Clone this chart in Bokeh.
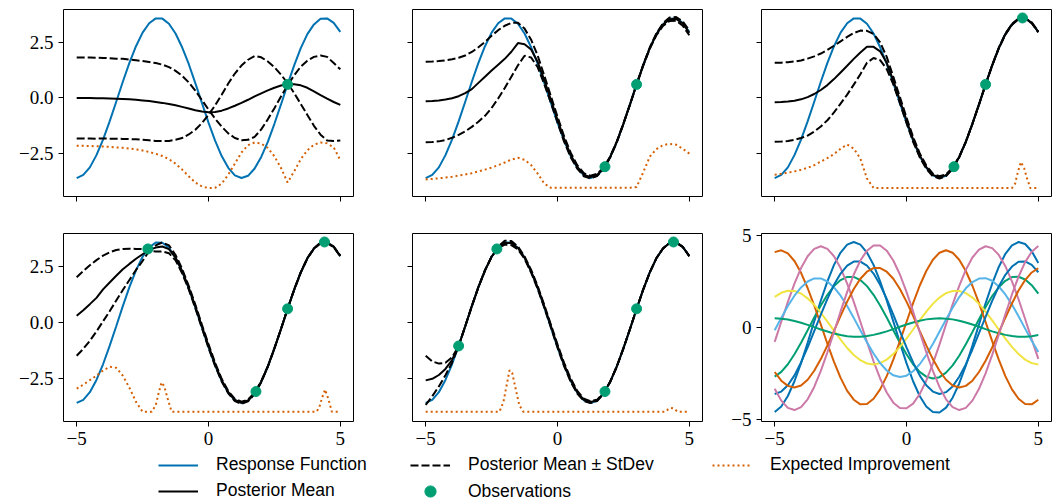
from bokeh.plotting import figure
from bokeh.layouts import row, column
from bokeh.models import FixedTicker, CustomJSTickFormatter, Legend, LegendItem, Range1d
from bokeh.embed import file_html
from bokeh.resources import INLINE

# ---------------- data ----------------
X = [-5.0, -4.75, -4.5, -4.25, -4.0, -3.75, -3.5, -3.25, -3.0, -2.75,
     -2.5, -2.25, -2.0, -1.75, -1.5, -1.25, -1.0, -0.75, -0.5, -0.25,
     0.0, 0.25, 0.5, 0.75, 1.0, 1.25, 1.5, 1.75, 2.0, 2.25,
     2.5, 2.75, 3.0, 3.25, 3.5, 3.75, 4.0, 4.25, 4.5, 4.75, 5.0]

RESPONSE = [-3.60, -3.46, -3.12, -2.57, -1.87, -1.05, -0.17, 0.73, 1.58, 2.33,
            2.94, 3.36, 3.58, 3.57, 3.34, 2.90, 2.28, 1.53, 0.67, -0.22,
            -1.11, -1.92, -2.61, -3.14, -3.48, -3.60, -3.50, -3.17, -2.65, -1.97,
            -1.16, -0.29, 0.61, 1.47, 2.24, 2.87, 3.31, 3.56, 3.58, 3.38, 2.97]

OBS_X = [3.0, 1.8, 4.4, -2.3, -3.75]
OBS_Y = [0.61, -3.09, 3.60, 3.29, -1.05]

MEAN_1 = [0.00, 0.00, 0.00, -0.01, -0.01, -0.02, -0.03, -0.04, -0.06, -0.08,
          -0.11, -0.14, -0.18, -0.22, -0.27, -0.33, -0.40, -0.47, -0.55, -0.61,
          -0.64, -0.63, -0.57, -0.47, -0.35, -0.22, -0.08, 0.07, 0.21, 0.34,
          0.46, 0.56, 0.62, 0.62, 0.57, 0.46, 0.30, 0.13, -0.03, -0.18, -0.31]
UPPER_1 = [1.82, 1.82, 1.82, 1.81, 1.80, 1.79, 1.77, 1.76, 1.73, 1.70,
           1.66, 1.62, 1.57, 1.50, 1.39, 1.22, 1.00, 0.70, 0.33, -0.09,
           -0.52, -0.93, -1.29, -1.59, -1.80, -1.90, -1.88, -1.75, -1.41, -0.96,
           -0.46, 0.07, 0.57, 1.02, 1.41, 1.68, 1.85, 1.91, 1.85, 1.57, 1.29]
LOWER_1 = [-1.82, -1.82, -1.82, -1.83, -1.82, -1.83, -1.83, -1.84, -1.85, -1.86,
           -1.88, -1.90, -1.93, -1.94, -1.93, -1.88, -1.80, -1.64, -1.43, -1.13,
           -0.76, -0.33, 0.15, 0.65, 1.10, 1.46, 1.72, 1.89, 1.83, 1.64,
           1.38, 1.05, 0.67, 0.22, -0.27, -0.76, -1.25, -1.65, -1.91, -1.93, -1.91]
EI_X_1 = X
EI_1 = [-2.15, -2.15, -2.16, -2.17, -2.18, -2.20, -2.22, -2.24, -2.27, -2.31,
        -2.36, -2.43, -2.51, -2.61, -2.75, -2.95, -3.22, -3.52, -3.80, -3.98,
        -4.05, -4.04, -3.85, -3.45, -2.95, -2.45, -2.12, -2.00, -2.05, -2.25,
        -2.62, -3.15, -3.80, -3.30, -2.75, -2.35, -2.10, -2.00, -2.04, -2.22, -2.80]

MEAN_2 = [-0.15, -0.14, -0.11, -0.07, -0.01, 0.08, 0.22, 0.40, 0.68, 0.96,
          1.24, 1.50, 1.76, 2.08, 2.47, 2.42, 2.18, 1.62, 0.80, -0.08,
          -0.98, -1.84, -2.56, -3.10, -3.45, -3.56, -3.46, -3.16, -2.65, -1.97,
          -1.16, -0.29, 0.61, 1.47, 2.24, 2.86, 3.30, 3.54, 3.56, 3.35, 2.93]
UPPER_2 = [1.63, 1.64, 1.66, 1.69, 1.74, 1.81, 1.91, 2.07, 2.28, 2.52,
           2.80, 3.05, 3.25, 3.38, 3.38, 3.12, 2.62, 1.90, 1.00, 0.08,
           -0.84, -1.72, -2.46, -3.02, -3.38, -3.50, -3.41, -3.13, -2.63, -1.95,
           -1.15, -0.28, 0.61, 1.49, 2.27, 2.90, 3.36, 3.62, 3.64, 3.45, 3.04]
LOWER_2 = [-1.99, -1.98, -1.95, -1.89, -1.79, -1.66, -1.50, -1.30, -1.07, -0.80,
           -0.45, -0.02, 0.45, 0.96, 1.47, 1.90, 1.82, 1.38, 0.62, -0.22,
           -1.10, -1.96, -2.66, -3.18, -3.52, -3.62, -3.51, -3.19, -2.67, -1.99,
           -1.17, -0.30, 0.61, 1.45, 2.21, 2.82, 3.24, 3.46, 3.48, 3.25, 2.82]
EI_X_2 = X
EI_2 = [-3.66, -3.64, -3.61, -3.58, -3.54, -3.49, -3.44, -3.38, -3.30, -3.22,
        -3.13, -3.02, -2.90, -2.77, -2.69, -2.78, -3.02, -3.40, -3.85, -4.04,
        -4.04, -4.04, -4.04, -4.04, -4.04, -4.04, -4.04, -4.04, -4.04, -4.04,
        -4.04, -4.04, -4.00, -3.35, -2.64, -2.30, -2.12, -2.06, -2.10, -2.28, -2.50]

MEAN_3 = [-0.19, -0.18, -0.16, -0.12, -0.06, 0.04, 0.18, 0.36, 0.58, 0.85,
          1.15, 1.45, 1.76, 2.05, 2.30, 2.30, 2.10, 1.58, 0.78, -0.10,
          -1.00, -1.86, -2.57, -3.11, -3.46, -3.57, -3.47, -3.16, -2.65, -1.97,
          -1.16, -0.29, 0.61, 1.47, 2.24, 2.87, 3.31, 3.56, 3.58, 3.38, 2.97]
UPPER_3 = [1.58, 1.59, 1.61, 1.64, 1.69, 1.77, 1.87, 2.00, 2.16, 2.35,
           2.55, 2.75, 2.92, 3.03, 3.02, 2.88, 2.50, 1.85, 0.95, 0.04,
           -0.88, -1.75, -2.48, -3.04, -3.40, -3.52, -3.43, -3.13, -2.63, -1.96,
           -1.15, -0.29, 0.61, 1.48, 2.26, 2.89, 3.33, 3.58, 3.60, 3.40, 2.99]
LOWER_3 = [-1.97, -1.96, -1.93, -1.88, -1.80, -1.69, -1.51, -1.28, -1.00, -0.65,
           -0.25, 0.15, 0.60, 1.07, 1.58, 1.80, 1.70, 1.30, 0.61, -0.24,
           -1.12, -1.97, -2.66, -3.18, -3.52, -3.62, -3.51, -3.19, -2.67, -1.98,
           -1.17, -0.30, 0.61, 1.46, 2.22, 2.85, 3.29, 3.54, 3.56, 3.36, 2.95]
EI_X_3 = [-5.0, -4.75, -4.5, -4.25, -4.0, -3.75, -3.5, -3.25, -3.0, -2.75,
          -2.5, -2.25, -2.0, -1.75, -1.5, -1.25, 4.0, 4.12, 4.22, 4.34,
          4.46, 4.58, 4.7, 5.0]
EI_3 = [-3.45, -3.41, -3.36, -3.30, -3.23, -3.14, -3.02, -2.86, -2.70, -2.52,
        -2.28, -2.09, -2.28, -2.72, -3.62, -4.05, -4.05, -3.85, -3.35, -2.88,
        -3.15, -3.65, -4.05, -4.05]

MEAN_4 = [0.30, 0.55, 0.82, 1.10, 1.48, 1.79, 2.09, 2.38, 2.62, 2.85,
          3.05, 3.25, 3.35, 3.40, 3.28, 2.90, 2.30, 1.56, 0.72, -0.17,
          -1.05, -1.87, -2.58, -3.12, -3.47, -3.59, -3.49, -3.17, -2.65, -1.97,
          -1.16, -0.29, 0.61, 1.47, 2.24, 2.87, 3.31, 3.56, 3.58, 3.38, 2.97]
UPPER_4 = [2.02, 2.30, 2.56, 2.79, 2.99, 3.14, 3.24, 3.29, 3.30, 3.29,
           3.28, 3.30, 3.45, 3.58, 3.45, 3.02, 2.40, 1.64, 0.80, -0.10,
           -0.97, -1.80, -2.52, -3.07, -3.42, -3.54, -3.45, -3.14, -2.63, -1.96,
           -1.15, -0.29, 0.61, 1.48, 2.25, 2.88, 3.32, 3.58, 3.60, 3.40, 2.99]
LOWER_4 = [-1.49, -1.18, -0.82, -0.40, 0.05, 0.50, 0.98, 1.45, 1.90, 2.35,
           2.75, 3.20, 3.18, 3.18, 3.10, 2.78, 2.20, 1.48, 0.64, -0.25,
           -1.13, -1.94, -2.64, -3.17, -3.52, -3.64, -3.53, -3.20, -2.67, -1.98,
           -1.17, -0.29, 0.61, 1.46, 2.23, 2.86, 3.30, 3.54, 3.56, 3.36, 2.95]
EI_X_4 = [-5.0, -4.75, -4.5, -4.25, -4.0, -3.75, -3.5, -3.25, -3.0, -2.75,
          -2.5, -2.15, -2.0, -1.88, -1.78, -1.68, -1.55, -1.4, 4.1, 4.2,
          4.3, 4.42, 4.55, 4.68, 5.0]
EI_4 = [-2.96, -2.78, -2.58, -2.38, -2.15, -1.98, -2.03, -2.38, -2.92, -3.55,
        -3.99, -3.99, -3.70, -3.10, -2.68, -2.85, -3.40, -3.99, -3.99, -3.80,
        -3.40, -3.00, -3.44, -3.99, -3.99]

MEAN_5 = [-2.59, -2.52, -2.35, -2.08, -1.68, -1.05, -0.17, 0.73, 1.58, 2.33,
          2.94, 3.36, 3.56, 3.55, 3.33, 2.90, 2.29, 1.56, 0.72, -0.16,
          -1.05, -1.88, -2.58, -3.12, -3.46, -3.56, -3.49, -3.17, -2.65, -1.97,
          -1.16, -0.29, 0.61, 1.47, 2.24, 2.87, 3.31, 3.56, 3.58, 3.38, 2.97]
UPPER_5 = [-1.49, -1.74, -1.84, -1.80, -1.56, -1.05, -0.16, 0.74, 1.59, 2.34,
           2.95, 3.40, 3.66, 3.64, 3.40, 2.95, 2.35, 1.62, 0.78, -0.10,
           -0.98, -1.81, -2.51, -3.06, -3.41, -3.52, -3.46, -3.15, -2.64, -1.96,
           -1.16, -0.29, 0.61, 1.47, 2.24, 2.87, 3.31, 3.56, 3.58, 3.38, 2.97]
LOWER_5 = [-3.69, -3.30, -2.86, -2.36, -1.80, -1.05, -0.18, 0.72, 1.57, 2.32,
           2.93, 3.33, 3.48, 3.46, 3.27, 2.85, 2.23, 1.50, 0.66, -0.22,
           -1.12, -1.95, -2.65, -3.18, -3.51, -3.60, -3.52, -3.19, -2.66, -1.98,
           -1.16, -0.29, 0.61, 1.47, 2.24, 2.87, 3.31, 3.56, 3.58, 3.38, 2.97]
EI_X_5 = [-5.0, -2.2, -2.05, -1.92, -1.82, -1.72, -1.6, -1.45, -1.3, 4.1,
          4.2, 4.3, 4.42, 4.55, 5.0]
EI_5 = [-3.99, -3.99, -3.55, -2.75, -2.14, -2.25, -2.90, -3.70, -3.99, -3.99,
        -3.88, -3.82, -3.85, -3.99, -3.99]

# prior samples (panel 6)
SAMPLE_01 = [-4.58, -4.28, -3.71, -2.91, -1.93, -0.83, 0.33, 1.46, 2.50, 3.39,
             4.06, 4.49, 4.63, 4.49, 4.06, 3.39, 2.50, 1.46, 0.33, -0.83,
             -1.93, -2.91, -3.71, -4.28, -4.58, -4.60, -4.34, -3.80, -3.03, -2.07,
             -0.98, 0.17, 1.31, 2.37, 3.28, 3.99, 4.45, 4.63, 4.52, 4.13, 3.49]
SAMPLE_02 = [-2.66, -2.40, -1.99, -1.45, -0.83, -0.15, 0.54, 1.19, 1.77, 2.24,
             2.57, 2.74, 2.74, 2.57, 2.24, 1.77, 1.19, 0.54, -0.15, -0.83,
             -1.45, -1.99, -2.40, -2.66, -2.76, -2.69, -2.44, -2.05, -1.53, -0.91,
             -0.24, 0.45, 1.11, 1.70, 2.18, 2.53, 2.73, 2.75, 2.60, 2.29, 1.84]
SAMPLE_03 = [4.08, 4.18, 4.01, 3.60, 2.96, 2.14, 1.19, 0.16, -0.88, -1.86,
             -2.73, -3.43, -3.91, -4.16, -4.14, -3.86, -3.35, -2.63, -1.74, -0.74,
             0.30, 1.32, 2.26, 3.06, 3.67, 4.05, 4.18, 4.05, 3.67, 3.06,
             2.26, 1.32, 0.30, -0.74, -1.74, -2.63, -3.35, -3.86, -4.14, -4.16, -3.91]
SAMPLE_04 = [-0.78, 0.31, 1.39, 2.38, 3.22, 3.86, 4.26, 4.40, 4.26, 3.86,
             3.22, 2.38, 1.39, 0.31, -0.78, -1.83, -2.76, -3.52, -4.07, -4.36,
             -4.37, -4.12, -3.61, -2.88, -1.96, -0.93, 0.17, 1.25, 2.25, 3.12,
             3.79, 4.22, 4.40, 4.30, 3.93, 3.32, 2.50, 1.53, 0.46, -0.64, -1.70]
SAMPLE_05 = [1.66, 1.88, 1.99, 1.98, 1.84, 1.58, 1.23, 0.80, 0.32, -0.17,
             -0.66, -1.11, -1.49, -1.77, -1.95, -2.00, -1.93, -1.74, -1.44, -1.05,
             -0.60, -0.11, 0.39, 0.86, 1.28, 1.62, 1.86, 1.98, 1.98, 1.86,
             1.62, 1.28, 0.86, 0.39, -0.11, -0.60, -1.05, -1.44, -1.74, -1.93, -2.00]
SAMPLE_06 = [-0.15, 0.52, 1.16, 1.72, 2.17, 2.49, 2.66, 2.66, 2.49, 2.17,
             1.72, 1.16, 0.52, -0.15, -0.80, -1.41, -1.93, -2.33, -2.59, -2.68,
             -2.61, -2.37, -1.99, -1.49, -0.89, -0.23, 0.43, 1.07, 1.65, 2.12,
             2.46, 2.65, 2.67, 2.53, 2.22, 1.79, 1.24, 0.61, -0.06, -0.72, -1.33]
SAMPLE_07 = [-3.60, -3.47, -3.13, -2.59, -1.89, -1.08, -0.20, 0.70, 1.55, 2.31,
             2.92, 3.35, 3.57, 3.57, 3.35, 2.92, 2.31, 1.55, 0.70, -0.20,
             -1.08, -1.89, -2.59, -3.13, -3.47, -3.60, -3.50, -3.19, -2.67, -2.00,
             -1.19, -0.31, 0.58, 1.44, 2.22, 2.85, 3.30, 3.56, 3.58, 3.39, 2.99]
SAMPLE_08 = [0.50, 0.48, 0.43, 0.35, 0.26, 0.14, 0.02, -0.11, -0.22, -0.33,
             -0.41, -0.47, -0.50, -0.50, -0.46, -0.40, -0.31, -0.21, -0.09, 0.04,
             0.16, 0.27, 0.37, 0.44, 0.48, 0.50, 0.48, 0.44, 0.37, 0.27,
             0.16, 0.04, -0.09, -0.21, -0.31, -0.40, -0.46, -0.50, -0.50, -0.47, -0.41]
SAMPLE_09 = [-2.41, -2.88, -3.16, -3.25, -3.14, -2.83, -2.34, -1.71, -0.97, -0.18,
             0.63, 1.40, 2.08, 2.64, 3.02, 3.22, 3.22, 3.02, 2.64, 2.08,
             1.40, 0.63, -0.18, -0.97, -1.71, -2.34, -2.83, -3.14, -3.25, -3.16,
             -2.88, -2.41, -1.80, -1.08, -0.28, 0.53, 1.30, 2.00, 2.57, 2.98, 3.21]
SAMPLE_10 = [-3.32, -3.96, -4.35, -4.47, -4.31, -3.89, -3.22, -2.35, -1.34, -0.24,
             0.87, 1.93, 2.87, 3.63, 4.16, 4.44, 4.44, 4.16, 3.63, 2.87,
             1.93, 0.87, -0.24, -1.34, -2.35, -3.22, -3.89, -4.31, -4.47, -4.35,
             -3.96, -3.32, -2.48, -1.48, -0.39, 0.72, 1.79, 2.75, 3.54, 4.10, 4.41]

X_TICKS = [-5, 0, 5]
Y_TICKS_GP = [-2.5, 0.0, 2.5]
Y_TICKS_SAMPLES = [-5, 0, 5]

LEGEND_LABELS = ["Response Function", "Posterior Mean", "Posterior Mean \u00b1 StDev",
                 "Observations", "Expected Improvement"]

# ---------------- style ----------------
BLUE = "#0072B2"
GREEN = "#009E73"
VERM = "#D55E00"
PINK = "#CC79A7"
YELLOW = "#F0E442"
SKY = "#56B4E9"
SAMPLE_COLORS = [BLUE, GREEN, VERM, PINK, YELLOW, SKY, BLUE, GREEN, VERM, PINK]
SAMPLES = [SAMPLE_01, SAMPLE_02, SAMPLE_03, SAMPLE_04, SAMPLE_05,
           SAMPLE_06, SAMPLE_07, SAMPLE_08, SAMPLE_09, SAMPLE_10]

TICK_FONT = "Liberation Serif"
TICK_SIZE = "19px"
LEG_FONT = "Liberation Sans"
LEG_SIZE = "17.5px"
LW = 2
DASH = "8 3"
DOT = "2 3"

FMT_DEC = "return (tick < 0 ? '\u2212' : '') + Math.abs(tick).toFixed(1);"
FMT_INT = "return (tick < 0 ? '\u2212' : '') + Math.abs(tick).toFixed(0);"
FMT_NONE = "return '';"

FW = 290


def style_axis(ax, ticks, code):
    ax.ticker = FixedTicker(ticks=ticks, minor_ticks=[])
    ax.formatter = CustomJSTickFormatter(code=code)
    ax.axis_line_color = None
    ax.major_tick_line_color = "black"
    ax.major_tick_line_width = 1
    ax.major_tick_in = 0
    ax.major_tick_out = 5
    ax.minor_tick_line_color = None
    ax.major_label_standoff = 5
    ax.major_label_text_font = TICK_FONT
    ax.major_label_text_font_size = TICK_SIZE
    ax.major_label_text_color = "black"


def make_fig(col, rw, y_range, y_ticks, y_code, x_code):
    left = [63, 55, 55][col]
    right = [4, 4, 2][col]
    top = [9, 12][rw]
    bottom = [25, 33][rw]
    fh = [187, 188][rw]
    p = figure(frame_width=FW, frame_height=fh,
               x_range=Range1d(-5.5, 5.5), y_range=Range1d(*y_range),
               output_backend="svg", toolbar_location=None,
               min_border_left=left, min_border_right=right,
               min_border_top=top, min_border_bottom=bottom)
    p.grid.visible = False
    p.outline_line_color = "black"
    p.outline_line_width = 1
    p.background_fill_color = "white"
    p.border_fill_color = "white"
    style_axis(p.xaxis[0], X_TICKS, x_code)
    style_axis(p.yaxis[0], y_ticks, y_code)
    return p


PANELS = [
    (MEAN_1, UPPER_1, LOWER_1, EI_X_1, EI_1),
    (MEAN_2, UPPER_2, LOWER_2, EI_X_2, EI_2),
    (MEAN_3, UPPER_3, LOWER_3, EI_X_3, EI_3),
    (MEAN_4, UPPER_4, LOWER_4, EI_X_4, EI_4),
    (MEAN_5, UPPER_5, LOWER_5, EI_X_5, EI_5),
]

GP_RANGE = (-4.43, 3.98)
figs = []
for i, (mean, up, lo, eix, ei) in enumerate(PANELS):
    col, rw = i % 3, i // 3
    y_code = FMT_DEC if col == 0 else FMT_NONE
    x_code = FMT_INT if rw == 1 else FMT_NONE
    p = make_fig(col, rw, GP_RANGE, Y_TICKS_GP, y_code, x_code)
    p.line(X, RESPONSE, line_color=BLUE, line_width=LW)
    p.line(X, mean, line_color="black", line_width=LW)
    p.line(X, up, line_color="black", line_width=LW, line_dash=DASH)
    p.line(X, lo, line_color="black", line_width=LW, line_dash=DASH)
    p.line(eix, ei, line_color=VERM, line_width=LW, line_dash=DOT)
    p.scatter(OBS_X[:i + 1], OBS_Y[:i + 1], size=10, fill_color=GREEN, line_color=GREEN)
    figs.append(p)

p6 = make_fig(2, 1, (-5.09, 5.09), Y_TICKS_SAMPLES, FMT_INT, FMT_INT)
for s, c in zip(SAMPLES, SAMPLE_COLORS):
    p6.line(X, s, line_color=c, line_width=LW)
figs.append(p6)

# ---------------- legend (separate strip below the grid) ----------------
lf = figure(width=1053, height=48, x_range=Range1d(0, 1), y_range=Range1d(0, 1),
            output_backend="svg", toolbar_location=None,
            x_axis_type=None, y_axis_type=None, min_border=0)
lf.outline_line_color = None
lf.grid.visible = False
# proxy renderers whose points lie outside the visible strip; they only feed the legend
OFF = [5.0, 6.0]
r_resp = lf.line(OFF, OFF, line_color=BLUE, line_width=LW)
r_mean = lf.line(OFF, OFF, line_color="black", line_width=LW)
r_std = lf.line(OFF, OFF, line_color="black", line_width=LW, line_dash=DASH)
r_obs = lf.scatter(OFF[:1], OFF[:1], size=10, fill_color=GREEN, line_color=GREEN)
r_ei = lf.line(OFF, OFF, line_color=VERM, line_width=LW, line_dash=DOT)


def add_leg(label, rend, loc, gh=20):
    leg = Legend(items=[LegendItem(label=label, renderers=[rend])], location=loc,
                 orientation="vertical", padding=0, margin=0, spacing=0,
                 glyph_width=40, glyph_height=gh, label_height=20, label_standoff=18,
                 label_text_font=LEG_FONT, label_text_font_size=LEG_SIZE,
                 label_text_color="black", border_line_color=None,
                 background_fill_alpha=0, inactive_fill_alpha=0)
    lf.add_layout(leg)


add_leg(LEGEND_LABELS[0], r_resp, (158, 27))
add_leg(LEGEND_LABELS[1], r_mean, (158, 1))
add_leg(LEGEND_LABELS[2], r_std, (410, 27))
add_leg(LEGEND_LABELS[3], r_obs, (410, -3), gh=28)
add_leg(LEGEND_LABELS[4], r_ei, (712, 27))

layout = column(row(figs[0], figs[1], figs[2]),
                row(figs[3], figs[4], figs[5]),
                lf)

open("out.html", "w").write(file_html(layout, INLINE))
